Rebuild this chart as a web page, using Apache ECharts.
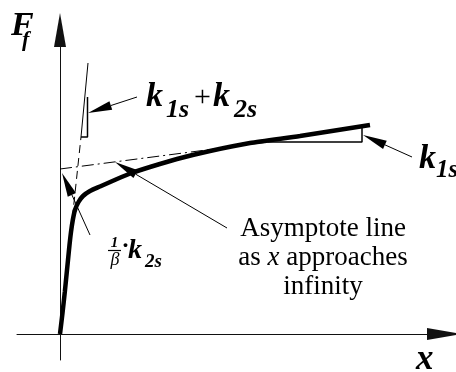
<!DOCTYPE html>
<html>
<head>
<meta charset="utf-8">
<script src="https://cdn.jsdelivr.net/npm/echarts@6/dist/echarts.min.js"></script>
<style>
  html, body { margin: 0; padding: 0; background: #fff; }
  #chart { width: 456px; height: 372px; }
</style>
</head>
<body>
<div id="chart"></div>
<script>
// friction force F_f against slip x (schematic units, origin at the axes crossing)
const curveX = [0, 2.5, 4.8, 6.5, 8, 9.5, 11, 12.8, 15, 18.5, 23, 30, 40, 57, 73, 90, 117, 150, 190, 240, 310];
const curveF = [0, 21, 42, 59, 74, 89, 102, 114, 124, 132, 138, 143, 147.5, 155, 161.5, 167, 175, 183, 191, 198, 209];

// asymptote for large x: intercept and where it meets the curve
const asymX = [0, 208];
const asymF = [165, 192];

// initial tangent (slope k1s + k2s)
const tanX = [0, 21, 28];
const tanF = [0, 197, 271];

// little slope triangles
const triSmallX = [21, 27.5, 27.5];
const triSmallF = [197, 197, 237];
const triBigX = [208, 302, 302];
const triBigF = [192, 192, 206];

// leader arrows: [fromX, fromF, toX, toF]
const arrows = [
    [77, 237, 28, 221],
    [167, 106, 55, 172],
    [30, 99, 2, 161],
    [352, 177, 303, 199]
];

const SERIF = 'Liberation Serif';

function pairs(xs, ys) {
    return xs.map(function (x, i) { return [x, ys[i]]; });
}

function txt(x, y, s, size, style, weight, align) {
    return {
        type: 'text',
        x: x,
        y: y,
        style: {
            text: s,
            fontFamily: SERIF,
            fontSize: size,
            fontStyle: style || 'normal',
            fontWeight: weight || 'normal',
            fill: '#000',
            align: align || 'left',
            verticalAlign: 'middle'
        }
    };
}

const chart = echarts.init(document.getElementById('chart'));

const axisCommon = {
    type: 'value',
    axisLine: {
        show: true,
        onZero: true,
        symbol: ['none', 'triangle'],
        symbolSize: [12, 34],
        lineStyle: { color: '#111', width: 1 }
    },
    axisTick: { show: false },
    axisLabel: { show: false },
    splitLine: { show: false }
};

const option = {
    animation: false,
    backgroundColor: '#fff',
    grid: { left: 17, right: 12, top: 30, bottom: 12 },
    xAxis: Object.assign({}, axisCommon, { min: -43, max: 384 }),
    yAxis: Object.assign({}, axisCommon, { min: -26, max: 304 }),
    series: [
        {
            type: 'line',
            data: pairs(curveX, curveF),
            smooth: 0.2,
            symbol: 'none',
            lineStyle: { color: '#000', width: 4.5 }
        },
        {
            type: 'line',
            data: pairs(asymX, asymF),
            symbol: 'none',
            lineStyle: { color: '#000', width: 1, type: [12, 4, 2, 4] }
        },
        {
            type: 'line',
            data: pairs(tanX.slice(0, 2), tanF.slice(0, 2)),
            symbol: 'none',
            lineStyle: { color: '#000', width: 1, type: [8, 5] }
        },
        {
            type: 'line',
            data: pairs(tanX.slice(1), tanF.slice(1)),
            symbol: 'none',
            lineStyle: { color: '#000', width: 1 }
        },
        {
            type: 'line',
            data: pairs(triSmallX, triSmallF),
            symbol: 'none',
            lineStyle: { color: '#000', width: 1.5 }
        },
        {
            type: 'line',
            data: pairs(triBigX, triBigF),
            symbol: 'none',
            lineStyle: { color: '#000', width: 1.5 }
        },
        {
            type: 'custom',
            data: arrows,
            encode: { x: [0, 2], y: [1, 3] },
            renderItem: function (params, api) {
                const a = api.coord([api.value(0), api.value(1)]);
                const b = api.coord([api.value(2), api.value(3)]);
                const ang = Math.atan2(b[1] - a[1], b[0] - a[0]);
                const c = Math.cos(ang), s = Math.sin(ang);
                const L = 24, W = 4.5;
                const bx = b[0] - L * c, by = b[1] - L * s;
                return {
                    type: 'group',
                    children: [
                        {
                            type: 'line',
                            shape: { x1: a[0], y1: a[1], x2: bx, y2: by },
                            style: { stroke: '#000', lineWidth: 1 }
                        },
                        {
                            type: 'polygon',
                            shape: { points: [[b[0], b[1]], [bx - W * s, by + W * c], [bx + W * s, by - W * c]] },
                            style: { fill: '#000' }
                        }
                    ]
                };
            }
        }
    ],
    graphic: [
        txt(11, 26, 'F', 34, 'italic', 'bold'),
        txt(22, 40, 'f', 22, 'italic', 'bold'),

        txt(146, 97, 'k', 34, 'italic', 'bold'),
        txt(166, 110, '1s', 26, 'italic', 'bold'),
        txt(194, 98, '+', 30),
        txt(213, 97, 'k', 34, 'italic', 'bold'),
        txt(234, 110, '2s', 26, 'italic', 'bold'),

        txt(419, 159, 'k', 34, 'italic', 'bold'),
        txt(436, 171, '1s', 25, 'italic', 'bold'),

        txt(416, 360, 'x', 35, 'italic', 'bold'),

        txt(114.5, 243, '1', 15, 'italic', 'bold', 'center'),
        {
            type: 'line',
            shape: { x1: 108, y1: 250.5, x2: 121, y2: 250.5 },
            style: { stroke: '#000', lineWidth: 1.2 }
        },
        txt(115, 260, 'β', 18, 'italic', 'normal', 'center'),
        txt(121.5, 247, '·', 24, 'normal', 'bold'),
        txt(128, 251, 'k', 28, 'italic', 'bold'),
        txt(145, 262, '2s', 19, 'italic', 'bold'),

        {
            type: 'text',
            x: 323,
            y: 214,
            style: {
                text: '{n|Asymptote line}\n{n|as }{i|x}{n| approaches}\n{n|infinity}',
                align: 'center',
                verticalAlign: 'top',
                fill: '#000',
                rich: {
                    n: { fontFamily: SERIF, fontSize: 27, lineHeight: 29, fill: '#000' },
                    i: { fontFamily: SERIF, fontSize: 27, fontStyle: 'italic', lineHeight: 29, fill: '#000' }
                }
            }
        }
    ]
};

chart.setOption(option);
</script>
</body>
</html>
